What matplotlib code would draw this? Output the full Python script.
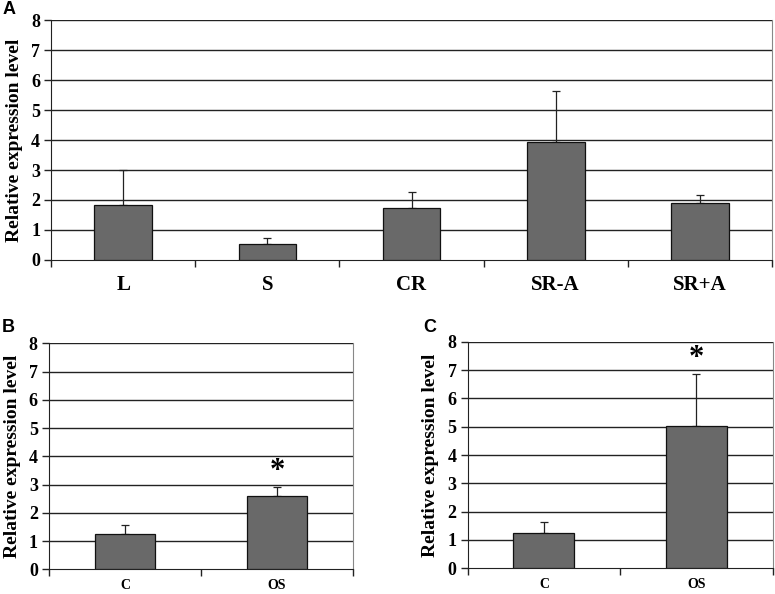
import matplotlib
matplotlib.use("Agg")
import matplotlib.pyplot as plt
import numpy as np

# Panel A
cats_a = ["L", "S", "CR", "SR-A", "SR+A"]
vals_a = [1.83, 0.52, 1.72, 3.94, 1.91]
err_a = [1.17, 0.21, 0.56, 1.69, 0.27]
# Panel B
cats_b = ["C", "OS"]
vals_b = [1.24, 2.60]
err_b = [0.34, 0.30]
# Panel C
cats_c = ["C", "OS"]
vals_c = [1.26, 5.03]
err_c = [0.38, 1.84]
yticks = [0, 1, 2, 3, 4, 5, 6, 7, 8]
ylabel = "Relative expression level"

serif = ["Liberation Serif", "DejaVu Serif"]
sans = ["Liberation Sans", "DejaVu Sans"]
bar_color = "#696969"

fig = plt.figure(figsize=(7.75, 5.94), dpi=100)

def panel(rect, cats, vals, errs, xfs, xpad, stars=None, star_y=None):
    ax = fig.add_axes(rect)
    n = len(cats)
    x = np.arange(n) + 0.5
    for yv in yticks[1:]:
        ax.axhline(yv, color="#222222", lw=1.0, zorder=1)
    ax.bar(x, vals, width=0.4, color=bar_color, edgecolor="#111111", lw=0.9, zorder=3)
    ax.errorbar(x, vals, yerr=[np.zeros(n), errs], fmt="none", ecolor="#222222",
                elinewidth=0.9, capsize=3, capthick=0.9, zorder=2)
    ax.set_xlim(0, n)
    ax.set_ylim(0, 8)
    ax.set_yticks(yticks)
    ax.set_yticklabels([str(t) for t in yticks], fontfamily=serif, fontweight="bold", fontsize=13)
    ax.set_xticks(np.arange(n + 1))
    ax.set_xticklabels([])
    ax.set_xticks(x, minor=True)
    ax.set_xticklabels(cats, minor=True, fontfamily=serif, fontweight="bold", fontsize=xfs)
    ax.tick_params(axis="x", which="major", direction="out", length=5, width=1, color="#222222")
    ax.tick_params(axis="x", which="minor", length=0, pad=xpad)
    ax.tick_params(axis="y", direction="out", length=5, width=1, color="#222222", pad=3)
    ax.spines["top"].set_visible(False)
    ax.spines["right"].set_color("#888888")
    ax.spines["left"].set_color("#222222")
    ax.spines["bottom"].set_color("#222222")
    ax.set_ylabel(ylabel, fontfamily=serif, fontweight="bold", fontsize=14, labelpad=6)
    if stars is not None:
        for xi, sy in zip(stars, star_y):
            ax.text(x[xi], sy, "*", ha="center", va="center", fontsize=22,
                    fontfamily=serif, fontweight="bold")
    return ax

axA = panel([0.066, 0.5623, 0.930, 0.404], cats_a, vals_a, err_a, 15, 11)
axB = panel([0.0632, 0.0416, 0.3923, 0.3804], cats_b, vals_b, err_b, 10, 7, stars=[1], star_y=[3.45])
axC = panel([0.6035, 0.0433, 0.3935, 0.3814], cats_c, vals_c, err_c, 10, 7, stars=[1], star_y=[7.4])

fig.text(3 / 775, 1 - 9 / 594, "A", fontfamily=sans, fontweight="bold", fontsize=13, va="center")
fig.text(2 / 775, 1 - 328 / 594, "B", fontfamily=sans, fontweight="bold", fontsize=13, va="center")
fig.text(423 / 775, 1 - 328 / 594, "C", fontfamily=sans, fontweight="bold", fontsize=13, va="center")

fig.savefig("out.png", dpi=100)
